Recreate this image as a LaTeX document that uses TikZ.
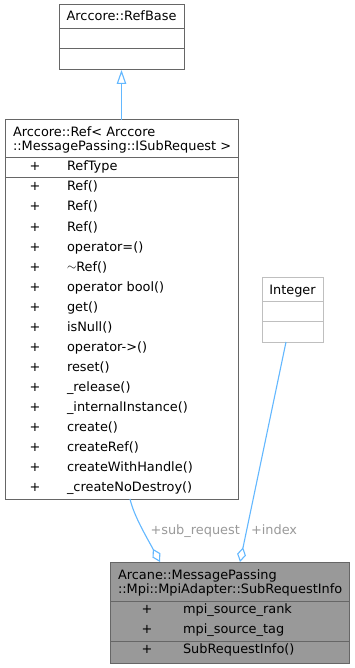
\documentclass[tikz,border=0pt]{standalone}
\usepackage{fontspec}
\setmainfont{DejaVu Sans}
\usetikzlibrary{arrows.meta}
\definecolor{edgeblue}{HTML}{63B8FF}
\definecolor{boxline}{HTML}{666666}
\definecolor{extline}{HTML}{BFBFBF}
\definecolor{curfill}{HTML}{999999}
\definecolor{lblgray}{HTML}{9A9A9A}
\begin{document}
\begin{tikzpicture}[x=1pt,y=-1pt,
  every node/.style={font=\fontsize{12.9}{15}\selectfont, inner sep=0pt, outer sep=0pt},
  classbox/.style={rectangle, draw=boxline, line width=1pt, fill=white, anchor=north west},
  extbox/.style={classbox, draw=extline},
  curbox/.style={classbox, fill=curfill},
  divider/.style={draw=boxline, line width=1pt},
  extdivider/.style={draw=extline, line width=1pt},
  txt/.style={anchor=base, text=black},
  member/.style={anchor=base west, text=black},
  title/.style={anchor=base west, text=black},
  relline/.style={color=edgeblue, line width=1.1pt},
  inherit/.style={color=edgeblue, line width=1.5pt, -{Triangle[open, length=14pt, width=9.5pt, line width=1.1pt]}},
  aggr/.style={relline, -{Diamond[open, length=15pt, width=9pt]}},
  edgelabel/.style={anchor=base west, text=lblgray}
]
\useasboundingbox[fill=white] (0,0) rectangle (355,668);

% Arccore::RefBase
\node[classbox, minimum width=125pt, minimum height=65pt] (refbase) at (59,5) {};
\draw[divider] (refbase.west |- 0,29) -- (refbase.east |- 0,29);
\draw[divider] (refbase.west |- 0,49) -- (refbase.east |- 0,49);
\node[txt] (refbase-title) at (121.5,21) {Arccore::RefBase};

% Arccore::Ref< Arccore::MessagePassing::ISubRequest >
\node[classbox, minimum width=233pt, minimum height=379pt] (ref) at (5,120) {};
\draw[divider] (ref.west |- 0,158) -- (ref.east |- 0,158);
\draw[divider] (ref.west |- 0,178) -- (ref.east |- 0,178);
\node[title] (ref-title1) at (13,136.5) {Arccore::Ref< Arccore};
\node[title] (ref-title2) at (13,151) {::MessagePassing::ISubRequest >};
\node[txt] (ref-pa) at (35,171) {+};
\node[member] (ref-a) at (67,171) {RefType};
\foreach \name [count=\i from 0] in {Ref(),Ref(),Ref(),operator=(),{\raisebox{0.1ex}{$\sim$}Ref()},operator bool(),get(),isNull(),operator->(),reset(),\_release(),\_internalInstance(),create(),createRef(),createWithHandle(),\_createNoDestroy()}{
  \node[txt] (ref-p\i) at (35,191+20*\i) {+};
  \node[member] (ref-m\i) at (67,191+20*\i) {\name};
}

% Integer
\node[extbox, minimum width=61pt, minimum height=65pt] (integer) at (262,277) {};
\draw[extdivider] (integer.west |- 0,301) -- (integer.east |- 0,301);
\draw[extdivider] (integer.west |- 0,321) -- (integer.east |- 0,321);
\node[txt] (integer-title) at (292.5,294) {Integer};

% Arcane::MessagePassing::Mpi::MpiAdapter::SubRequestInfo
\node[curbox, minimum width=239pt, minimum height=101pt] (sri) at (110,562) {};
\draw[divider] (sri.west |- 0,601) -- (sri.east |- 0,601);
\draw[divider] (sri.west |- 0,641) -- (sri.east |- 0,641);
\node[title] (sri-title1) at (118,579) {Arcane::MessagePassing};
\node[title] (sri-title2) at (118,593.5) {::Mpi::MpiAdapter::SubRequestInfo};
\node[txt] (sri-p0) at (147,613.5) {+};
\node[member] (sri-m0) at (183,613.5) {mpi\_source\_rank};
\node[txt] (sri-p1) at (147,633.5) {+};
\node[member] (sri-m1) at (183,633.5) {mpi\_source\_tag};
\node[txt] (sri-p2) at (147,653.5) {+};
\node[member] (sri-m2) at (183,653.5) {SubRequestInfo()};

% Relations
\draw[inherit] (ref.north) -- (refbase.south);
\draw[aggr] ([xshift=8.5pt]ref.south) .. controls (134,516) and (146,536) .. ([xshift=-69.5pt]sri.north);
\draw[aggr] ([xshift=-6.5pt]integer.south) -- ([xshift=10.5pt]sri.north);
\node[edgelabel] (lbl-sub) at (150.5,534) {+sub\_request};
\node[edgelabel] (lbl-index) at (251,534) {+index};
\end{tikzpicture}
\end{document}
